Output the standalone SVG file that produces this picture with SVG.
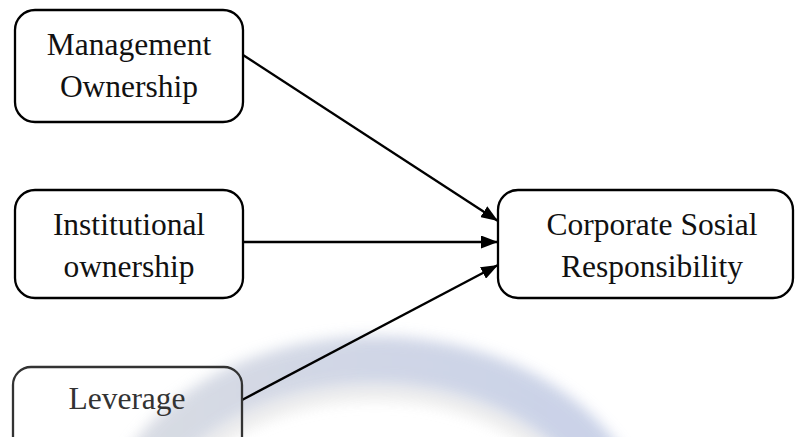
<svg xmlns="http://www.w3.org/2000/svg" width="795" height="437" viewBox="0 0 795 437">
  <defs>
    <style>
      .box { fill: none; stroke: #000; stroke-width: 2.3; }
      .lbl { font-family: "Liberation Serif", "Times New Roman", serif; font-size: 31.5px; fill: #111; text-anchor: middle; }
      .edge { stroke: #000; stroke-width: 2.3; fill: none; marker-end: url(#arr); }
    </style>
    <marker id="arr" viewBox="0 0 17 13" refX="17" refY="6.5" markerWidth="17" markerHeight="13" markerUnits="userSpaceOnUse" orient="auto">
      <path d="M0,0 L17,6.5 L0,13 Z" fill="#000"/>
    </marker>
    <filter id="blur" x="-20%" y="-20%" width="140%" height="140%">
      <feGaussianBlur stdDeviation="7"/>
    </filter>
    <linearGradient id="ringGrad" x1="0" y1="0" x2="1" y2="0">
      <stop offset="0" stop-color="#d2d6df"/>
      <stop offset="0.5" stop-color="#c8cfe2"/>
      <stop offset="1" stop-color="#c0cae4"/>
    </linearGradient>
  </defs>

  <rect width="795" height="437" fill="#fff"/>

  <g id="watermark" filter="url(#blur)" opacity="0.85">
    <ellipse cx="375" cy="545" rx="252" ry="185" fill="none" stroke="url(#ringGrad)" stroke-width="48"/>
    <ellipse cx="375" cy="550" rx="220" ry="157" fill="none" stroke="#e2e2e2" stroke-width="14" opacity="0.8"/>
  </g>

  <g id="connectors">
    <line class="edge" x1="243" y1="55" x2="498" y2="221"/>
    <line class="edge" x1="243" y1="242" x2="498" y2="242"/>
    <line class="edge" x1="242" y1="400" x2="498" y2="265"/>
  </g>

  <g id="node-management">
    <rect class="box" x="15" y="10" width="228" height="112" rx="20"/>
    <text class="lbl" x="129" y="55">Management</text>
    <text class="lbl" x="129" y="97">Ownership</text>
  </g>

  <g id="node-institutional">
    <rect class="box" x="15" y="190" width="228" height="108" rx="20"/>
    <text class="lbl" x="129" y="235">Institutional</text>
    <text class="lbl" x="129" y="277">ownership</text>
  </g>

  <g id="node-leverage">
    <rect class="box" x="13" y="367" width="229" height="90" rx="18" style="stroke:#333"/>
    <text class="lbl" x="127" y="409" style="fill:#333">Leverage</text>
  </g>

  <g id="node-csr">
    <rect class="box" x="498" y="190" width="295" height="108" rx="20"/>
    <text class="lbl" x="652" y="235">Corporate Sosial</text>
    <text class="lbl" x="652" y="277">Responsibility</text>
  </g>
</svg>
